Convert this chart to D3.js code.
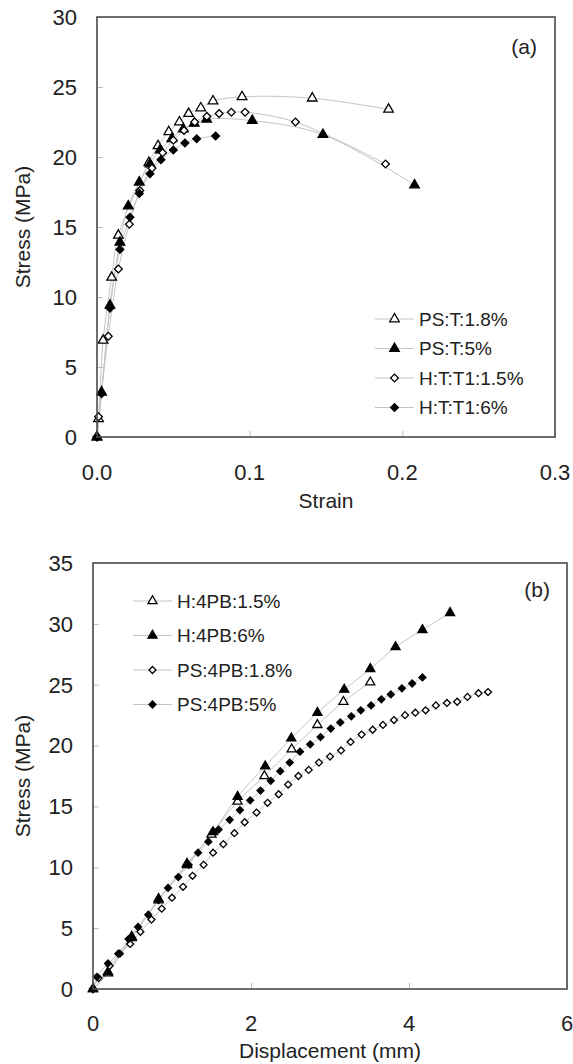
<!DOCTYPE html>
<html>
<head>
<meta charset="utf-8">
<script src="https://cdn.jsdelivr.net/npm/d3@7"></script>
<style>
    body { margin: 0; background: #fff; }
    text { font-family: "Liberation Sans", Arial, sans-serif; fill: #222; }
</style>
</head>
<body>
<svg id="chart"></svg>
<script>
/*
    Stress curves, tensile (a) and 4-point bending (b)
 */

// panel (a) - tensile
const strainPS18 = [0, 0.001, 0.004, 0.0096, 0.014, 0.034, 0.040, 0.047, 0.054, 0.060, 0.068, 0.076, 0.095, 0.141, 0.191];
const stressPS18 = [0, 1.3, 6.9, 11.4, 14.4, 19.6, 20.8, 21.8, 22.5, 23.1, 23.5, 24.0, 24.3, 24.2, 23.4];

const strainPS5 = [0, 0.003, 0.0085, 0.015, 0.0205, 0.0277, 0.0347, 0.0413, 0.049, 0.0565, 0.0637, 0.0718, 0.1017, 0.148, 0.208];
const stressPS5 = [0, 3.2, 9.4, 13.9, 16.5, 18.2, 19.5, 20.5, 21.3, 22.0, 22.4, 22.7, 22.6, 21.6, 18.0];

const strainH15 = [0, 0.001, 0.0074, 0.014, 0.0212, 0.028, 0.036, 0.043, 0.050, 0.057, 0.064, 0.072, 0.080, 0.088, 0.097, 0.130, 0.189];
const stressH15 = [0, 1.45, 7.2, 12.0, 15.2, 17.6, 19.2, 20.3, 21.2, 21.9, 22.5, 22.9, 23.1, 23.2, 23.2, 22.5, 19.5];

const strainH6 = [0, 0.003, 0.0085, 0.015, 0.0216, 0.0277, 0.0347, 0.0419, 0.050, 0.0576, 0.0653, 0.0777];
const stressH6 = [0, 3.1, 9.2, 13.4, 15.7, 17.4, 18.8, 19.8, 20.5, 21.0, 21.3, 21.5];

// panel (b) - four point bending
const dispH15 = [0, 0.19, 0.49, 0.83, 1.19, 1.50, 1.83, 2.17, 2.515, 2.84, 3.17, 3.51];
const stressBH15 = [0, 1.3, 4.2, 7.3, 10.2, 12.7, 15.4, 17.5, 19.7, 21.7, 23.6, 25.2];

const dispH6 = [0, 0.19, 0.49, 0.83, 1.19, 1.52, 1.83, 2.18, 2.51, 2.84, 3.18, 3.51, 3.83, 4.17, 4.52];
const stressBH6 = [0, 1.4, 4.3, 7.4, 10.3, 12.9, 15.8, 18.3, 20.6, 22.7, 24.6, 26.3, 28.1, 29.5, 30.9];

const dispPS18 = [0, 0.07, 0.21, 0.34, 0.47, 0.60, 0.74, 0.87, 1.00, 1.14, 1.26, 1.40, 1.52, 1.65, 1.79, 1.92, 2.07, 2.21, 2.35, 2.47,
    2.60, 2.73, 2.86, 3.00, 3.14, 3.26, 3.40, 3.54, 3.67, 3.81, 3.95, 4.08, 4.21, 4.34, 4.48, 4.61, 4.74, 4.88, 5.00];
const stressBPS18 = [0, 0.9, 1.9, 2.9, 3.7, 4.7, 5.7, 6.6, 7.5, 8.4, 9.3, 10.2, 11.2, 11.9, 12.8, 13.7, 14.5, 15.3, 16.0, 16.8,
    17.5, 18.0, 18.6, 19.1, 19.6, 20.3, 20.9, 21.3, 21.7, 22.1, 22.5, 22.7, 22.9, 23.3, 23.5, 23.6, 24.0, 24.3, 24.4];

const dispPS5 = [0, 0.05, 0.19, 0.32, 0.45, 0.57, 0.70, 0.83, 0.95, 1.08, 1.21, 1.33, 1.46, 1.59, 1.73, 1.86, 1.99, 2.12, 2.25, 2.37,
    2.49, 2.62, 2.75, 2.88, 3.01, 3.13, 3.27, 3.39, 3.52, 3.65, 3.77, 3.91, 4.04, 4.17];
const stressBPS5 = [0, 1.0, 2.1, 2.9, 4.1, 5.1, 6.1, 7.3, 8.3, 9.2, 10.2, 11.2, 12.1, 13.1, 13.9, 14.7, 15.5, 16.3, 17.1, 17.9,
    18.6, 19.5, 20.1, 20.7, 21.4, 21.9, 22.4, 22.9, 23.3, 23.8, 24.2, 24.7, 25.1, 25.6];

const ticksA_x = [0, 0.1, 0.2, 0.3];
const ticksA_y = [0, 5, 10, 15, 20, 25, 30];
const ticksB_x = [0, 2, 4, 6];
const ticksB_y = [0, 5, 10, 15, 20, 25, 30, 35];

const zip = (xs, ys) => xs.map((x, i) => ({x: x, y: ys[i]}));

const panelA = {
    left: 97, right: 555, top: 17, bottom: 437,
    xDomain: [0, 0.3], yDomain: [0, 30],
    xTicks: ticksA_x, yTicks: ticksA_y, xFmt: d3.format(".1f"),
    xTitle: "Strain", tag: "(a)", tagX: 537, tagY: 54,
    tickY: 480, titleY: 508,
    legend: {x: 375, y: 319, dy: 29.5},
    tri: 40, dia: 30,
    series: [
        {name: "PS:T:1.8%", shape: "tri", fill: "#fff", data: zip(strainPS18, stressPS18)},
        {name: "PS:T:5%", shape: "tri", fill: "#000", data: zip(strainPS5, stressPS5)},
        {name: "H:T:T1:1.5%", shape: "dia", fill: "#fff", data: zip(strainH15, stressH15)},
        {name: "H:T:T1:6%", shape: "dia", fill: "#000", data: zip(strainH6, stressH6)}
    ]
};

const panelB = {
    left: 93, right: 567, top: 563, bottom: 989,
    xDomain: [0, 6], yDomain: [0, 35],
    xTicks: ticksB_x, yTicks: ticksB_y, xFmt: d3.format("d"),
    xTitle: "Displacement (mm)", tag: "(b)", tagX: 550, tagY: 597,
    tickY: 1031, titleY: 1058,
    legend: {x: 133, y: 601, dy: 34.5},
    tri: 36, dia: 24,
    series: [
        {name: "H:4PB:1.5%", shape: "tri", fill: "#fff", data: zip(dispH15, stressBH15)},
        {name: "H:4PB:6%", shape: "tri", fill: "#000", data: zip(dispH6, stressBH6)},
        {name: "PS:4PB:1.8%", shape: "dia", fill: "#fff", data: zip(dispPS18, stressBPS18)},
        {name: "PS:4PB:5%", shape: "dia", fill: "#000", data: zip(dispPS5, stressBPS5)}
    ]
};

const svg = d3.select("#chart")
    .attr("width", 573)
    .attr("height", 1064);

function marker (sel, p, s) {
    if (s.shape == "tri") {
        sel.attr("d", d3.symbol(d3.symbolTriangle, p.tri)());
    } else {
        sel.attr("d", d3.symbol(d3.symbolSquare, p.dia)())
            .attr("transform", function () { return d3.select(this).attr("transform") + " rotate(45)"; });
    }
    sel.attr("fill", s.fill)
        .attr("stroke", "#000")
        .attr("stroke-width", 1.3);
}

function drawPanel (p) {
    const x = d3.scaleLinear().domain(p.xDomain).range([p.left, p.right]);
    const y = d3.scaleLinear().domain(p.yDomain).range([p.bottom, p.top]);

    const g = svg.append("g");

    // light inner ticks
    const xAxis = d3.axisTop(x).tickValues(p.xTicks).tickSize(6).tickFormat("");
    const yAxis = d3.axisRight(y).tickValues(p.yTicks).tickSize(6).tickFormat("");

    g.append("g")
        .attr("transform", `translate(0, ${p.bottom})`)
        .call(xAxis)
        .call(a => a.select(".domain").remove())
        .selectAll("line").attr("stroke", "#bbb");

    g.append("g")
        .attr("transform", `translate(${p.left}, 0)`)
        .call(yAxis)
        .call(a => a.select(".domain").remove())
        .selectAll("line").attr("stroke", "#bbb");

    // tick labels
    g.selectAll(".xl")
        .data(p.xTicks)
        .enter()
        .append("text")
        .attr("x", d => x(d))
        .attr("y", p.tickY)
        .attr("text-anchor", "middle")
        .attr("font-size", 22)
        .text(p.xFmt);

    g.selectAll(".yl")
        .data(p.yTicks)
        .enter()
        .append("text")
        .attr("x", p.left - 20)
        .attr("y", d => y(d))
        .attr("dy", "0.36em")
        .attr("text-anchor", "end")
        .attr("font-size", 22)
        .text(d => d);

    // titles
    g.append("text")
        .attr("x", (p.left + p.right) / 2)
        .attr("y", p.titleY)
        .attr("text-anchor", "middle")
        .attr("font-size", 21)
        .text(p.xTitle);

    g.append("text")
        .attr("transform", `translate(30, ${(p.top + p.bottom) / 2}) rotate(-90)`)
        .attr("text-anchor", "middle")
        .attr("font-size", 21)
        .text("Stress (MPa)");

    g.append("text")
        .attr("x", p.tagX)
        .attr("y", p.tagY)
        .attr("text-anchor", "end")
        .attr("font-size", 21)
        .text(p.tag);

    // curves
    const line = d3.line()
        .x(d => x(d.x))
        .y(d => y(d.y))
        .curve(d3.curveCatmullRom.alpha(0.5));

    p.series.forEach(s => {
        g.append("path")
            .datum(s.data)
            .attr("d", line)
            .attr("fill", "none")
            .attr("stroke", "#c4c4c4")
            .attr("stroke-width", 1);
    });

    p.series.forEach(s => {
        g.append("g")
            .selectAll("path")
            .data(s.data)
            .enter()
            .append("path")
            .attr("transform", d => `translate(${x(d.x)}, ${y(d.y)})`)
            .call(sel => marker(sel, p, s));
    });

    // frame
    g.append("rect")
        .attr("x", p.left)
        .attr("y", p.top)
        .attr("width", p.right - p.left)
        .attr("height", p.bottom - p.top)
        .attr("fill", "none")
        .attr("stroke", "#4a4a4a")
        .attr("stroke-width", 1.6);

    // legend
    const lg = g.append("g")
        .selectAll("g")
        .data(p.series)
        .enter()
        .append("g")
        .attr("transform", (d, i) => `translate(${p.legend.x}, ${p.legend.y + i * p.legend.dy})`);

    lg.append("line")
        .attr("x1", 0)
        .attr("x2", 39)
        .attr("stroke", "#c4c4c4");

    lg.each(function (s) {
        d3.select(this).append("path")
            .attr("transform", "translate(19.5, 0)")
            .call(sel => marker(sel, p, s));
    });

    lg.append("text")
        .attr("x", 44)
        .attr("dy", "0.36em")
        .attr("font-size", 19)
        .text(d => d.name);
}

drawPanel(panelA);
drawPanel(panelB);
</script>
</body>
</html>
